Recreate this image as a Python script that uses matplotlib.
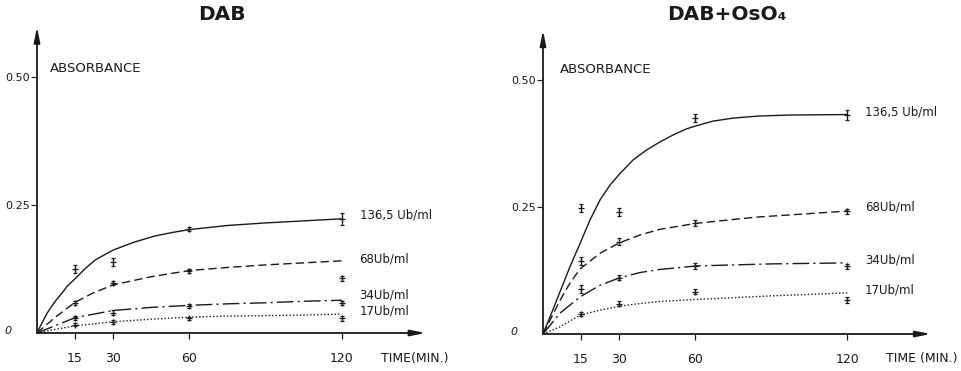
import matplotlib.pyplot as plt

# Measured time points (minutes) and the dose labels
point_t = [15, 30, 60, 120]
doses = ["136,5 Ub/ml", "68Ub/ml", "34Ub/ml", "17Ub/ml"]

# --- DAB panel: fitted curves (time, absorbance) ---
dab_curve_t = [
    [0, 2, 4, 7, 10, 12, 15, 19, 23, 30, 38, 46, 54, 60, 75, 90, 105, 120],
    [0, 7, 15, 22, 30, 45, 60, 75, 90, 105, 120],
    [0, 7, 15, 30, 45, 60, 75, 90, 105, 120],
    [0, 7, 15, 30, 45, 60, 75, 90, 105, 120],
]
dab_curve_v = [
    [0, 0.020, 0.039, 0.061, 0.079, 0.092, 0.106, 0.126, 0.143, 0.162, 0.177, 0.189,
     0.197, 0.202, 0.210, 0.215, 0.219, 0.223],
    [0, 0.030, 0.060, 0.078, 0.094, 0.110, 0.122, 0.128, 0.133, 0.137, 0.141],
    [0, 0.014, 0.030, 0.044, 0.050, 0.054, 0.057, 0.059, 0.062, 0.064],
    [0, 0.007, 0.014, 0.022, 0.027, 0.031, 0.033, 0.034, 0.035, 0.037],
]
dab_points = [
    [0.125, 0.139, 0.203, 0.223],
    [0.058, 0.098, 0.121, 0.107],
    [0.029, 0.040, 0.053, 0.059],
    [0.016, 0.022, 0.029, 0.029],
]
dab_err = [
    [0.008, 0.008, 0.004, 0.012],
    [0.004, 0.004, 0.004, 0.005],
    [0.004, 0.005, 0.004, 0.004],
    [0.003, 0.004, 0.003, 0.005],
]

# --- DAB + OsO4 panel ---
oso_curve_t = [
    [0, 2.8, 6.7, 10.6, 14.6, 18.5, 22.5, 26.4, 30.4, 35.6, 40.8, 46.1, 51.4, 56.7,
     60.6, 67, 75, 85, 97, 120],
    [0, 6.7, 10.6, 14.6, 22.5, 30.4, 38.3, 46, 60.6, 84, 120],
    [0, 6.7, 14.6, 22.5, 30.4, 38.3, 46, 60.6, 90, 120],
    [0, 6.7, 14.6, 22.5, 30.4, 38.3, 46, 60.6, 90, 120],
]
oso_curve_v = [
    [0, 0.034, 0.083, 0.132, 0.178, 0.224, 0.264, 0.293, 0.316, 0.343, 0.362, 0.378,
     0.392, 0.404, 0.410, 0.419, 0.425, 0.429, 0.431, 0.432],
    [0, 0.066, 0.100, 0.128, 0.159, 0.180, 0.195, 0.206, 0.218, 0.230, 0.242],
    [0, 0.041, 0.073, 0.096, 0.111, 0.121, 0.127, 0.134, 0.138, 0.140],
    [0, 0.014, 0.037, 0.047, 0.055, 0.060, 0.064, 0.068, 0.075, 0.081],
]
oso_points = [
    [0.248, 0.240, 0.425, 0.431],
    [0.143, 0.182, 0.218, 0.242],
    [0.088, 0.111, 0.133, 0.133],
    [0.040, 0.060, 0.083, 0.067],
]
oso_err = [
    [0.008, 0.008, 0.008, 0.010],
    [0.008, 0.006, 0.006, 0.005],
    [0.008, 0.005, 0.006, 0.005],
    [0.004, 0.005, 0.005, 0.006],
]

styles = [(0, ()), (0, (6, 3)), (0, (12, 3, 1.5, 3)), (0, (1, 1.5))]
ink = "#1a1a1a"

W, H = 961, 371
fig = plt.figure(figsize=(W / 100, H / 100), dpi=100)


def panel(x0, y0, pxmin, pxunit, curve_t, curve_v, points, errs, title, title_x,
          label_y, abs_xy, time_label):
    # axes placed so that time 0 / absorbance 0 sits at pixel (x0, y0)
    ax = fig.add_axes([x0 / W, (H - y0) / H, 160 * pxmin / W, 0.6 * pxunit / H])
    ax.set_xlim(0, 160)
    ax.set_ylim(0, 0.6)
    for s in ax.spines.values():
        s.set_visible(False)
    ax.patch.set_alpha(0)

    arrow = dict(arrowstyle="-|>,head_length=0.9,head_width=0.18", color=ink, lw=1.3,
                 shrinkA=0, shrinkB=0)
    ax.annotate("", xy=(153, 0), xytext=(0, 0), arrowprops=arrow, annotation_clip=False)
    ax.annotate("", xy=(0, 0.598), xytext=(0, 0), arrowprops=arrow, annotation_clip=False)

    for ct, cv, p, e, ls in zip(curve_t, curve_v, points, errs, styles):
        ax.plot(ct, cv, color=ink, lw=1.0, linestyle=ls, clip_on=False)
        ax.errorbar(point_t, p, yerr=e, fmt="+", color=ink, ms=4, mew=0.9,
                    elinewidth=0.9, capsize=1.5, clip_on=False)

    for lab, ly in zip(doses, label_y):
        ax.text(127, ly, lab, fontsize=8.5, va="center", ha="left", color=ink)

    ax.set_xticks(point_t)
    ax.set_xticklabels(["15", "30", "60", "120"])
    ax.tick_params(axis="x", length=4, width=0.9, direction="out", pad=10,
                   labelsize=9, colors=ink)
    ax.set_yticks([0.25, 0.5])
    ax.set_yticklabels(["0.25", "0.50"])
    ax.tick_params(axis="y", length=4, width=0.8, direction="out", pad=1,
                   labelsize=8, colors=ink)
    ax.text(-11.4, 0.004, "0", fontsize=8, style="italic", ha="center", va="center",
            color=ink)

    ax.text(abs_xy[0], abs_xy[1], "ABSORBANCE", fontsize=9.5, ha="left", va="center",
            color=ink)
    ax.text(135.5, -0.049, time_label, fontsize=9, ha="left", va="center", color=ink)
    fig.text(title_x / W, 1 - 15 / H, title, fontsize=14.5, fontweight="bold",
             ha="center", va="center", color=ink)


panel(37, 333, 2.54, 512, dab_curve_t, dab_curve_v, dab_points, dab_err, "DAB", 222,
      [0.230, 0.145, 0.074, 0.043], (5.1, 0.516), "TIME(MIN.)")
panel(543, 334, 2.535, 508, oso_curve_t, oso_curve_v, oso_points, oso_err,
      "DAB+OsO₄", 727, [0.437, 0.250, 0.146, 0.087], (6.7, 0.520), "TIME (MIN.)")

fig.savefig("out.png", dpi=100, facecolor="white")
